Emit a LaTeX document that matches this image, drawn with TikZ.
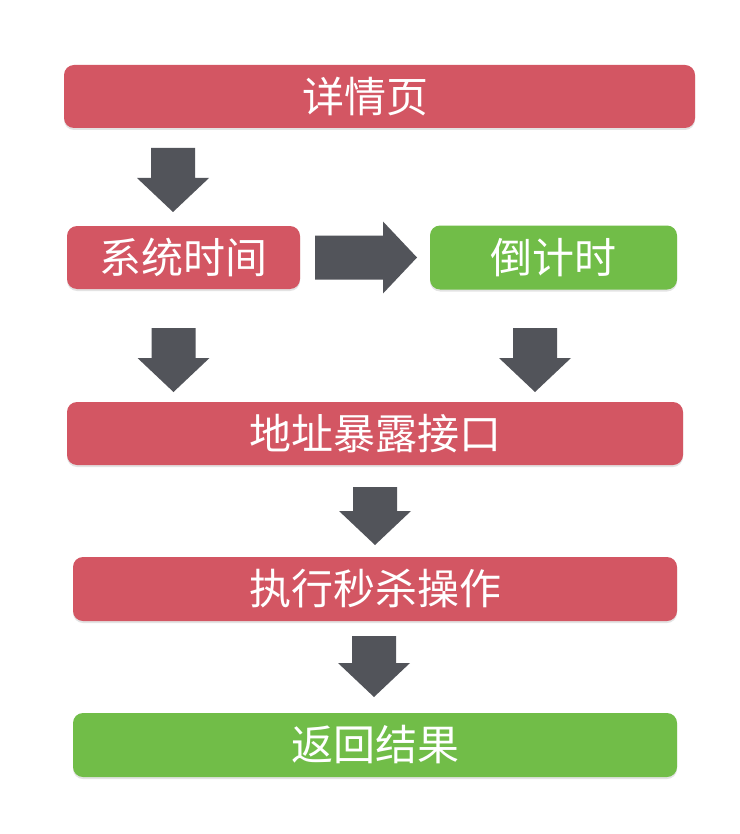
\documentclass[tikz,border=0pt]{standalone}
\usepackage{fontspec}
\newfontfamily\cjk{Noto Sans CJK SC}
\usetikzlibrary{shadows,calc}
\definecolor{boxred}{RGB}{211,86,99}
\definecolor{boxgreen}{RGB}{113,189,72}
\definecolor{arrowgray}{RGB}{82,84,90}

\tikzset{
  % block arrow pointing down, #1 = total length
  pics/blockarrow/.style={code={
    \fill[arrowgray] (-22,0) -- (22,0) -- (22,#1-34) -- (36,#1-34) -- (0,#1)
      -- (-36,#1-34) -- (-22,#1-34) -- cycle;
  }}
}

\begin{document}
\begin{tikzpicture}[x=1pt,y=-1pt,
    card/.style={rounded corners=10pt,minimum height=63pt,inner sep=0pt,
                 text=white,font=\cjk\fontsize{42}{50}\selectfont,
                 drop shadow={opacity=0.22,shadow xshift=0pt,shadow yshift=-2pt}},
    redcard/.style={card,fill=boxred},
    greencard/.style={card,fill=boxgreen}
  ]
  \fill[white] (0,0) rectangle (739,834);
  \useasboundingbox (0,0) rectangle (739,834);

  % boxes
  \node[redcard,minimum width=631pt,
        label={[text=white,font=\cjk\fontsize{42}{50}\selectfont,xshift=-14pt]center:详情页}]
        (detail) at (379.5,96.5) {};
  \node[redcard,minimum width=233pt]   (systime) at (183.5,257.5) {系统时间};
  \node[greencard,minimum width=247pt,minimum height=64pt] (countdown) at (553.5,257.5) {倒计时};
  \node[redcard,minimum width=616pt]   (expose) at (375,433.5) {地址暴露接口};
  \node[redcard,minimum width=604pt,minimum height=64pt] (seckill) at (375,589) {执行秒杀操作};
  \node[greencard,minimum width=604pt,minimum height=64pt] (result) at (375,745) {返回结果};

  % arrows
  \pic at (173,148) {blockarrow=64};
  \pic[rotate=90] at (315,257.5) {blockarrow=102};
  \pic at (173.5,328) {blockarrow=64};
  \pic at (535,328) {blockarrow=64};
  \pic at (375,487) {blockarrow=58};
  \pic at (374,636) {blockarrow=61};
\end{tikzpicture}
\end{document}
